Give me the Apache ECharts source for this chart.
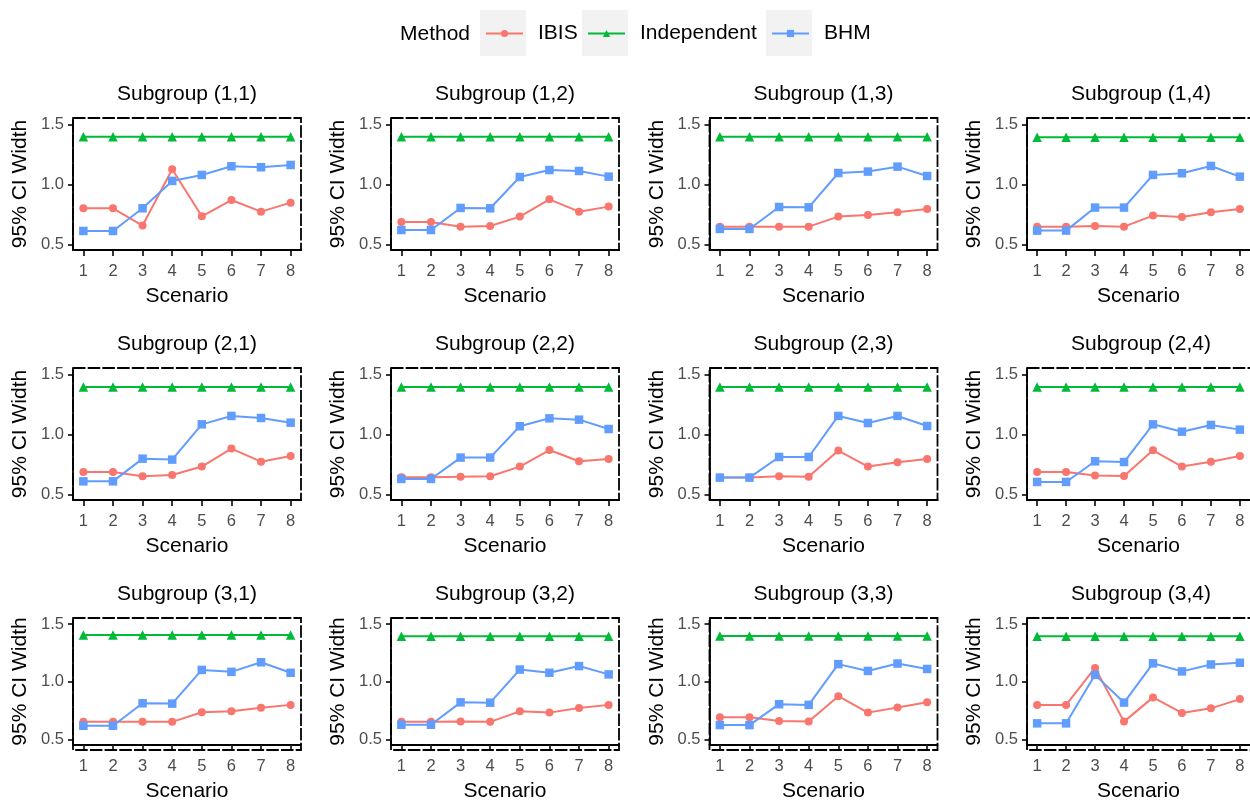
<!DOCTYPE html>
<html>
<head>
<meta charset="utf-8">
<script src="https://cdn.jsdelivr.net/npm/echarts@6/dist/echarts.min.js"></script>
<style>
html,body{margin:0;padding:0;background:#ffffff;}
#chart{width:1250px;height:803px;}
</style>
</head>
<body>
<div id="chart"></div>
<script>
// ---------------- data ----------------
const scenarios = [1, 2, 3, 4, 5, 6, 7, 8];
const subgroups = ['(1,1)', '(1,2)', '(1,3)', '(1,4)',
                   '(2,1)', '(2,2)', '(2,3)', '(2,4)',
                   '(3,1)', '(3,2)', '(3,3)', '(3,4)'];
const methods = ['IBIS', 'Independent', 'BHM'];
const yTicks = [0.5, 1.0, 1.5];

const ibis = [
  [0.800, 0.800, 0.656, 1.125, 0.733, 0.869, 0.772, 0.847],
  [0.686, 0.686, 0.647, 0.653, 0.731, 0.875, 0.772, 0.814],
  [0.647, 0.647, 0.647, 0.647, 0.731, 0.744, 0.767, 0.794],
  [0.647, 0.647, 0.653, 0.647, 0.739, 0.728, 0.767, 0.794],
  [0.686, 0.686, 0.650, 0.661, 0.731, 0.881, 0.772, 0.819],
  [0.642, 0.642, 0.647, 0.650, 0.731, 0.869, 0.775, 0.794],
  [0.639, 0.639, 0.650, 0.647, 0.864, 0.731, 0.767, 0.794],
  [0.686, 0.686, 0.656, 0.653, 0.867, 0.731, 0.772, 0.819],
  [0.653, 0.653, 0.653, 0.653, 0.736, 0.744, 0.775, 0.800],
  [0.653, 0.653, 0.656, 0.653, 0.744, 0.733, 0.772, 0.800],
  [0.692, 0.692, 0.661, 0.656, 0.875, 0.733, 0.778, 0.822],
  [0.800, 0.800, 1.120, 0.655, 0.865, 0.730, 0.770, 0.850]
];
const independent = [
  [1.397, 1.397, 1.397, 1.397, 1.397, 1.397, 1.397, 1.397],
  [1.397, 1.397, 1.397, 1.397, 1.397, 1.397, 1.397, 1.397],
  [1.397, 1.397, 1.397, 1.397, 1.397, 1.397, 1.397, 1.397],
  [1.392, 1.392, 1.392, 1.392, 1.392, 1.392, 1.392, 1.392],
  [1.394, 1.394, 1.394, 1.394, 1.394, 1.394, 1.394, 1.394],
  [1.394, 1.394, 1.394, 1.394, 1.394, 1.394, 1.394, 1.394],
  [1.394, 1.394, 1.394, 1.394, 1.394, 1.394, 1.394, 1.394],
  [1.394, 1.394, 1.394, 1.394, 1.394, 1.394, 1.394, 1.394],
  [1.406, 1.406, 1.406, 1.406, 1.406, 1.406, 1.406, 1.406],
  [1.394, 1.394, 1.394, 1.394, 1.394, 1.394, 1.394, 1.394],
  [1.397, 1.397, 1.397, 1.397, 1.397, 1.397, 1.397, 1.397],
  [1.395, 1.395, 1.395, 1.395, 1.395, 1.395, 1.395, 1.395]
];
const bhm = [
  [0.611, 0.611, 0.800, 1.028, 1.078, 1.150, 1.142, 1.161],
  [0.619, 0.619, 0.803, 0.800, 1.061, 1.119, 1.111, 1.064],
  [0.628, 0.628, 0.811, 0.808, 1.094, 1.106, 1.147, 1.069],
  [0.614, 0.614, 0.806, 0.806, 1.078, 1.092, 1.153, 1.064],
  [0.608, 0.608, 0.797, 0.789, 1.083, 1.153, 1.136, 1.097],
  [0.628, 0.628, 0.806, 0.806, 1.067, 1.133, 1.122, 1.044],
  [0.639, 0.639, 0.811, 0.811, 1.153, 1.094, 1.153, 1.069],
  [0.603, 0.603, 0.775, 0.769, 1.083, 1.022, 1.078, 1.039],
  [0.619, 0.619, 0.814, 0.811, 1.103, 1.086, 1.169, 1.078],
  [0.628, 0.628, 0.822, 0.819, 1.106, 1.078, 1.136, 1.064],
  [0.625, 0.625, 0.806, 0.800, 1.153, 1.094, 1.158, 1.111],
  [0.640, 0.640, 1.060, 0.820, 1.160, 1.090, 1.150, 1.165]
];

// ---------------- layout / style ----------------
const FONT = '"Liberation Sans", Arial, Helvetica, sans-serif';
const colLeft = [73, 391, 709.5, 1027];
const rowTop = [118, 368, 618];
const panelW = 228, panelH = 132;
const colors = {IBIS: '#F8766D', Independent: '#00BA38', BHM: '#619CFF'};
const symbols = {IBIS: 'circle', Independent: 'triangle', BHM: 'rect'};
const symSize = {IBIS: 8, Independent: 9.5, BHM: 8.5};
const valuesByMethod = {IBIS: ibis, Independent: independent, BHM: bhm};

const grids = [], xAxes = [], yAxes = [], series = [], titles = [], graphics = [];

subgroups.forEach((sg, k) => {
  const r = Math.floor(k / 4), c = k % 4;
  const left = colLeft[c], top = rowTop[r];
  grids.push({left: left, top: top, width: panelW, height: panelH, containLabel: false});
  xAxes.push({
    type: 'value', gridIndex: k, min: 0.65, max: 8.35,
    name: 'Scenario', nameLocation: 'middle', nameGap: 36,
    nameTextStyle: {fontFamily: FONT, fontSize: 21, color: '#000'},
    axisLine: {show: true, onZero: false, lineStyle: {color: '#000', width: 1.8}},
    axisTick: {show: true, length: 6, customValues: scenarios, lineStyle: {color: '#222', width: 1.8}},
    axisLabel: {show: true, customValues: scenarios, margin: 13, fontFamily: FONT, fontSize: 16.5, color: '#4D4D4D',
      formatter: v => String(v)},
    splitLine: {show: false}
  });
  yAxes.push({
    type: 'value', gridIndex: k, min: 0.4525, max: 1.5525,
    name: '95% CI Width', nameLocation: 'middle', nameGap: 42, nameRotate: 90,
    nameTextStyle: {fontFamily: FONT, fontSize: 21, color: '#000'},
    axisLine: {show: true, onZero: false, lineStyle: {color: '#000', width: 1.8}},
    axisTick: {show: true, length: 5, customValues: yTicks, lineStyle: {color: '#222', width: 1.8}},
    axisLabel: {show: true, customValues: yTicks, margin: 9, fontFamily: FONT, fontSize: 16.5, color: '#4D4D4D',
      formatter: v => v.toFixed(1)},
    splitLine: {show: false}
  });
  titles.push({
    text: 'Subgroup ' + sg, left: left + panelW / 2, top: 94 + r * 250,
    textAlign: 'center', textVerticalAlign: 'middle', padding: 0,
    textStyle: {fontFamily: FONT, fontSize: 21, fontWeight: 'normal', color: '#000'}
  });
  graphics.push({
    type: 'rect', z: 50, silent: true,
    shape: {x: left, y: top, width: panelW, height: panelH},
    style: {fill: 'none', stroke: '#000', lineWidth: 1.8, lineDash: [12.5, 2.2]}
  });
  methods.forEach(m => {
    series.push({
      name: m, type: 'line', xAxisIndex: k, yAxisIndex: k,
      data: scenarios.map((s, i) => [s, valuesByMethod[m][k][i]]),
      symbol: symbols[m], symbolSize: symSize[m], showSymbol: true,
      lineStyle: {color: colors[m], width: 2},
      itemStyle: {color: colors[m]},
      emphasis: {disabled: true},
      animation: false, z: 3
    });
  });
});

titles.push({
  text: 'Method', left: 400, top: 34, textVerticalAlign: 'middle', padding: 0,
  textStyle: {fontFamily: FONT, fontSize: 21, fontWeight: 'normal', color: '#000'}
});

// legend key backgrounds
[480, 582, 766].forEach(x => {
  graphics.push({type: 'rect', z: 0, silent: true,
    shape: {x: x, y: 10, width: 46, height: 46}, style: {fill: '#F2F2F2'}});
});

const legendLeft = {IBIS: 485, Independent: 587, BHM: 771};
const legends = methods.map(m => ({
  data: [m], left: legendLeft[m], top: 23, orient: 'horizontal', padding: 0,
  itemWidth: 37, itemHeight: 9, z: 10, selectedMode: false,
  textStyle: {fontFamily: FONT, fontSize: 21, color: '#000', padding: [0, 0, 0, 10]}
}));

const chart = echarts.init(document.getElementById('chart'), null, {renderer: 'canvas'});
chart.setOption({
  backgroundColor: '#ffffff',
  animation: false,
  title: titles,
  legend: legends,
  grid: grids,
  xAxis: xAxes,
  yAxis: yAxes,
  series: series,
  graphic: graphics
});
</script>
</body>
</html>
